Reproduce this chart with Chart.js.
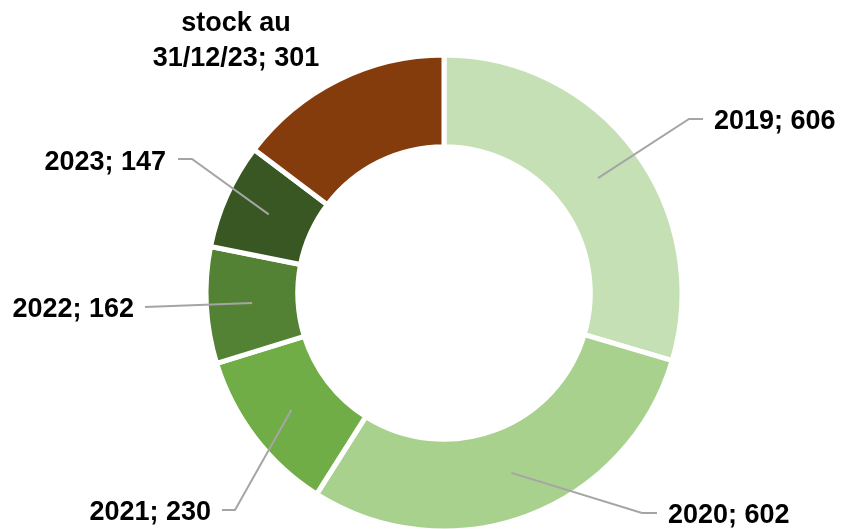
<!DOCTYPE html>
<html lang="fr">
<head>
  <meta charset="UTF-8" />
  <title>Stock</title>
  <script src="https://cdn.jsdelivr.net/npm/chart.js"></script>
  <style>
    html, body { margin: 0; padding: 0; background: #fff; }
    #wrap { width: 841px; height: 529px; }
  </style>
</head>
<body>
  <div id="wrap"><canvas id="donut"></canvas></div>

  <script>
    // data
    const categories = ['2019', '2020', '2021', '2022', '2023', 'stock au\n31/12/23'];
    const values = [606, 602, 230, 162, 147, 301];
    const colors = ['#C5E0B4', '#A9D18E', '#70AD47', '#548235', '#385723', '#843C0C'];

    // where each label sits, and the leader line bend (null = no line)
    const labelLayout = [
      { x: 714, y: 122, align: 'left',   elbow: [689, 119], end: [703, 119] },
      { x: 668, y: 516, align: 'left',   elbow: [642, 513], end: [657, 513] },
      { x: 211, y: 513, align: 'right',  elbow: [235, 510], end: [222, 510] },
      { x: 134, y: 310, align: 'right',  elbow: null,       end: [145, 307] },
      { x: 166, y: 163, align: 'right',  elbow: [192, 159], end: [178, 159] },
      { x: 236, y: 24,  align: 'center', elbow: null,       end: null, noLine: true }
    ];

    const leaderLabels = {
      id: 'leaderLabels',
      afterDatasetsDraw(chart) {
        const ctx = chart.ctx;
        const meta = chart.getDatasetMeta(0);
        ctx.save();
        meta.data.forEach((arc, i) => {
          const lay = labelLayout[i];
          if (!lay.noLine) {
            const p = arc.getCenterPoint();
            ctx.beginPath();
            ctx.strokeStyle = '#A5A5A5';
            ctx.lineWidth = 2;
            ctx.moveTo(p.x, p.y);
            if (lay.elbow) ctx.lineTo(lay.elbow[0], lay.elbow[1]);
            ctx.lineTo(lay.end[0], lay.end[1]);
            ctx.stroke();
          }
          ctx.fillStyle = '#000';
          ctx.font = 'bold 27px "Liberation Sans", Arial, sans-serif';
          ctx.textAlign = lay.align;
          ctx.textBaseline = 'middle';
          const lines = (categories[i] + '; ' + values[i]).split('\n');
          lines.forEach((t, k) => ctx.fillText(t, lay.x, lay.y + k * 35));
        });
        ctx.restore();
      }
    };

    new Chart(document.getElementById('donut'), {
      type: 'doughnut',
      data: {
        labels: categories,
        datasets: [{
          data: values,
          backgroundColor: colors,
          borderColor: '#fff',
          borderWidth: 5
        }]
      },
      options: {
        responsive: true,
        maintainAspectRatio: false,
        animation: false,
        radius: 238,
        cutout: 143.5,
        layout: { padding: { top: 57, bottom: 0, left: 208, right: 161 } },
        plugins: {
          legend: { display: false },
          tooltip: { enabled: false }
        }
      },
      plugins: [leaderLabels]
    });
  </script>
</body>
</html>
